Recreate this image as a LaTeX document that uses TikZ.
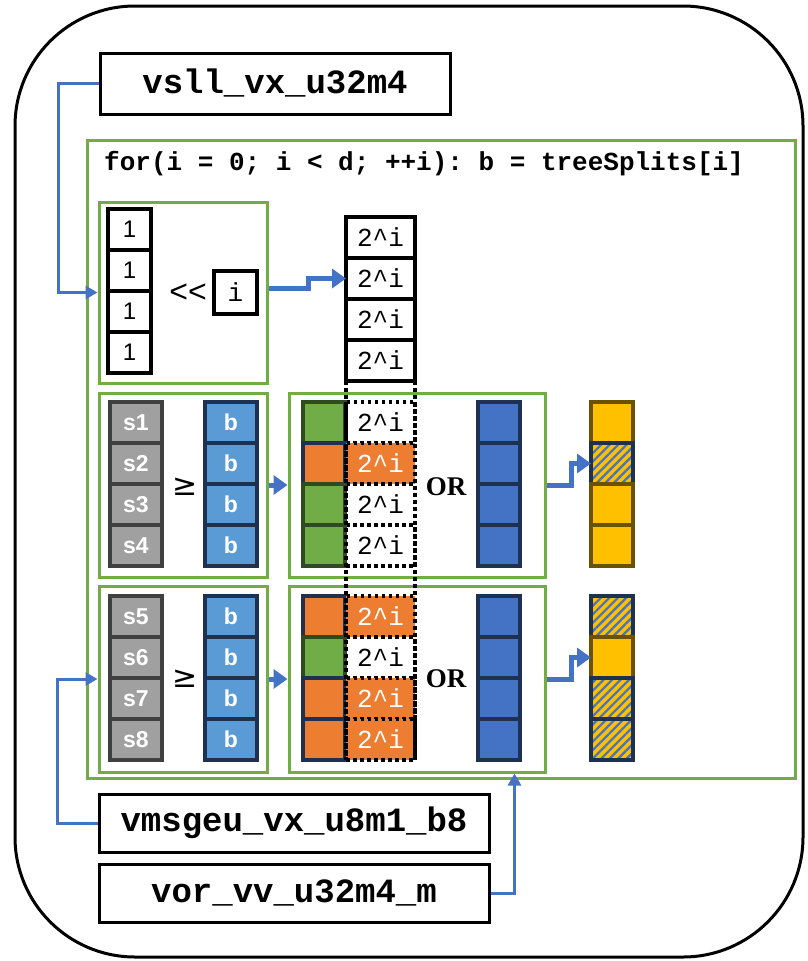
\documentclass[tikz,border=0pt]{standalone}
\usepackage{fontspec}
\setmainfont{Liberation Sans}
\setmonofont{Liberation Mono}
\newfontfamily\orfont{Liberation Serif}
\newfontfamily\symfont{DejaVu Sans}
\usetikzlibrary{positioning, arrows.meta, patterns.meta}

\definecolor{grnline}{HTML}{70AD47}
\definecolor{connblue}{HTML}{4472C4}
\definecolor{cellgray}{HTML}{A0A0A0}
\definecolor{cellgrayd}{HTML}{404040}
\definecolor{cellblue}{HTML}{5B9BD5}
\definecolor{navy}{HTML}{1F3150}
\definecolor{cellgreen}{HTML}{70AD47}
\definecolor{cellgreend}{HTML}{2E4A1E}
\definecolor{cellorange}{HTML}{ED7D31}
\definecolor{orblue}{HTML}{4472C4}
\definecolor{resyel}{HTML}{FFC000}
\definecolor{resyeld}{HTML}{6B5200}

\tikzset{
  grp/.style={draw=grnline, line width=3pt, inner sep=0pt},
  codebox/.style={draw, line width=3pt, inner sep=0pt, font=\ttfamily\bfseries\fontsize{34}{34}\selectfont},
  cell/.style={draw, line width=3.5pt, minimum height=41pt, inner sep=0pt, outer sep=0pt},
  onecell/.style={cell, minimum width=43pt, font=\fontsize{24}{24}\selectfont},
  powcell/.style={cell, minimum width=69pt, font=\ttfamily\fontsize{26}{26}\selectfont},
  dotcell/.style={powcell, line width=3.5pt, dash pattern=on 3.5pt off 3.5pt},
  orpow/.style={dotcell, fill=cellorange, text=white},
  scell/.style={cell, minimum width=52pt, fill=cellgray, draw=cellgrayd, text=white, font=\bfseries\fontsize{23}{23}\selectfont},
  bcell/.style={scell, fill=cellblue, draw=navy},
  grcell/.style={cell, minimum width=42pt, fill=cellgreen, draw=cellgreend},
  orcell/.style={cell, minimum width=42pt, fill=cellorange, draw=navy},
  ocell/.style={cell, minimum width=42pt, fill=orblue, draw=navy},
  ycell/.style={cell, minimum width=42pt, fill=resyel, draw=resyeld},
  hcell/.style={cell, minimum width=42pt, draw=navy, preaction={fill=resyel},
    pattern={Lines[angle=45, distance=6pt, line width=2.2pt]}, pattern color=orblue},
  conn/.style={draw=connblue, line width=3pt, -{Triangle[length=12pt, width=13pt]}},
  fatconn/.style={draw=connblue, line width=5pt, -{Triangle[length=14pt, width=19pt]}},
  dotcol/.style={line width=3.5pt, dash pattern=on 3.5pt off 3.5pt}
}

\begin{document}
\begin{tikzpicture}[x=1pt, y=-1pt]
\useasboundingbox (0,0) rectangle (807,961);
\draw[line width=3pt, rounded corners=120pt] (15,6) rectangle (803,957);

% code boxes
\node[codebox, minimum width=350pt, minimum height=61pt] (vsll) at (275,83.5) {vsll\_vx\_u32m4};
\node[codebox, minimum width=390pt, minimum height=58pt] (vmsgeu) at (294,823) {vmsgeu\_vx\_u8m1\_b8};
\node[codebox, minimum width=390pt, minimum height=58pt] (vor) at (294,893) {vor\_vv\_u32m4\_m};

% loop body
\node[grp, minimum width=708pt, minimum height=638pt] (loopbox) at (441,459) {};
\node[anchor=west, inner sep=0pt, font=\ttfamily\bfseries\fontsize{26}{26}\selectfont] (looptxt) at (104,164) {for(i = 0; i < d; ++i): b = treeSplits[i]};

% shift
\node[grp, minimum width=168pt, minimum height=181pt] (shiftbox) at (183,292.5) {};
\foreach \k in {1,...,4}
  \node[onecell] (one\k) at (129.5,188.5+41*\k) {1};
\node[font=\fontsize{32}{32}\selectfont] (shl) at (188,293) {{<}{<}};
\node[cell, minimum width=43pt, minimum height=43pt, font=\ttfamily\fontsize{26}{26}\selectfont] (ibox) at (235.5,292.5) {i};
\foreach \k in {1,...,4}
  \node[powcell] (pow\k) at (380.5,196.5+41*\k) {2\^{}i};

% compare, first half
\node[grp, minimum width=168pt, minimum height=184pt] (cmpA) at (183,485) {};
\node[grp, minimum width=256pt, minimum height=184pt] (orA) at (417,485) {};
\foreach \k in {1,...,4} {
  \node[scell] (sA\k) at (136,381.5+41*\k) {s\k};
  \node[bcell] (bA\k) at (231,381.5+41*\k) {b};
  \node[ocell] (oA\k) at (499,381.5+41*\k) {};
}
\foreach \k/\c/\p in {1/grcell/dotcell, 2/orcell/orpow, 3/grcell/dotcell, 4/grcell/dotcell} {
  \node[\c] (mA\k) at (324,381.5+41*\k) {};
  \node[\p] (powA\k) at (380.5,381.5+41*\k) {2\^{}i};
}
\foreach \k/\c in {1/ycell, 2/hcell, 3/ycell, 4/ycell}
  \node[\c] (resA\k) at (612,381.5+41*\k) {};
\node[font=\symfont\fontsize{30}{30}\selectfont] (geA) at (185,487) {≥};
\node[font=\orfont\bfseries\fontsize{27}{27}\selectfont] (orlA) at (446,487) {OR};

% compare, second half
\node[grp, minimum width=168pt, minimum height=186pt] (cmpB) at (183,679) {};
\node[grp, minimum width=256pt, minimum height=186pt] (orB) at (417,679) {};
\foreach \k/\n in {1/5,2/6,3/7,4/8} {
  \node[scell] (sB\k) at (136,575.5+41*\k) {s\n};
  \node[bcell] (bB\k) at (231,575.5+41*\k) {b};
  \node[ocell] (oB\k) at (499,575.5+41*\k) {};
}
\foreach \k/\c/\p in {1/orcell/orpow, 2/grcell/dotcell, 3/orcell/orpow, 4/orcell/orpow} {
  \node[\c] (mB\k) at (324,575.5+41*\k) {};
  \node[\p] (powB\k) at (380.5,575.5+41*\k) {2\^{}i};
}
\foreach \k/\c in {1/hcell, 2/ycell, 3/hcell, 4/hcell}
  \node[\c] (resB\k) at (612,575.5+41*\k) {};
\node[font=\symfont\fontsize{30}{30}\selectfont] (geB) at (185,679) {≥};
\node[font=\orfont\bfseries\fontsize{27}{27}\selectfont] (orlB) at (446,679) {OR};

\draw[dotcol] (pow4.south west) -- (powB4.south west);
\draw[dotcol] (pow4.south east) -- (powB4.south east);

% connectors
\draw[conn] (vsll.west) -- ++(-40,0) |- (shiftbox.west);
\draw[fatconn] ([yshift=4pt]shiftbox.east) -- ++(40,0) |- (pow2.west);
\draw[fatconn] (cmpA) -- (orA);
\draw[fatconn] (orA.east) -- ++(25,0) |- (resA2.west);
\draw[fatconn] (cmpB) -- (orB);
\draw[fatconn] (orB.east) -- ++(25,0) |- (resB2.west);
\draw[conn] (vmsgeu.west) -- ++(-40,0) |- (cmpB.west);
\draw[conn] (vor.east) -| ([xshift=-32pt]orB.south east);
\end{tikzpicture}
\end{document}
